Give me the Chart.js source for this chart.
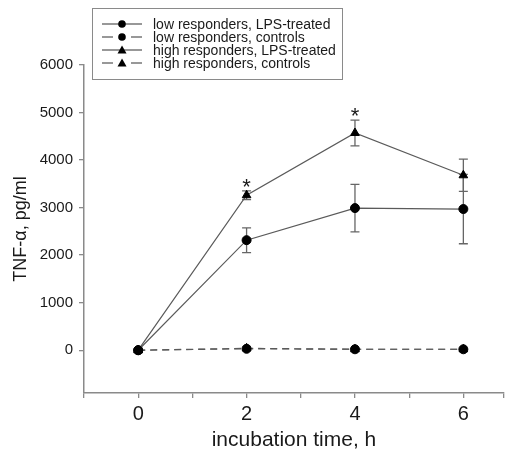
<!DOCTYPE html>
<html lang="en">
<head>
    <meta charset="UTF-8">
    <title>TNF-alpha time course</title>
    <style>
        * { box-sizing: border-box; margin: 0; }
        html, body { width: 510px; height: 454px; background: #fff; overflow: hidden; }
        canvas { display: block; }
    </style>
</head>
<body>
    <canvas id="chartCanvasId" width="510" height="454"></canvas>

    <script src="https://cdn.jsdelivr.net/npm/chart.js@4.4.1/dist/chart.umd.min.js"></script>
    <script>
        "use strict";

        // incubation times (h)
        const times         = [0, 2, 4, 6]
        const seriesNames   = [
            "low responders, LPS-treated",
            "low responders, controls",
            "high responders, LPS-treated",
            "high responders, controls"
        ]
        // TNF-alpha, pg/ml (mean and error)
        const lowLPS        = [0, 2315, 2990, 2970]
        const lowLPSErr     = [0, 260, 500, 730]
        const lowCtrl       = [0, 30, 20, 20]
        const highLPS       = [0, 3260, 4570, 3680]
        const highLPSErr    = [0, 90, 270, 340]
        const highCtrl      = [0, 40, 20, 20]
        // times marked significant (*)
        const sigTimes      = [2, 4]

        const xTickValues   = [-1, 0, 1, 2, 3, 4, 5, 6, 6.75]
        const xTickLabels   = ["", "0", "", "2", "", "4", "", "6", ""]
        const yTickValues   = [0, 1000, 2000, 3000, 4000, 5000, 6000]

        const lineColor     = '#5a5a5a'
        const axisColor     = '#8a8a8a'
        const textColor     = '#1a1a1a'
        const fontFamily    = '"Liberation Sans", Arial, sans-serif'

        function pts(ys) {
            return times.map((t, i) => ({ x: t, y: ys[i] }))
        }

        function makeSet(idx, ys, errs, shape, dashed) {
            return {
                label: seriesNames[idx],
                data: pts(ys),
                err: errs,
                borderColor: lineColor,
                borderWidth: 1.2,
                borderDash: dashed ? [7, 5] : [],
                pointStyle: shape,
                pointRadius: shape === 'triangle' ? 5 : 4.5,
                pointBackgroundColor: '#000',
                pointBorderColor: '#000',
                pointBorderWidth: 1,
                fill: false,
                tension: 0
            }
        }

        // error bars, drawn under the markers
        const errorBars = {
            id: 'errorBars',
            beforeDatasetsDraw(chart) {
                const ctx = chart.ctx
                const xs = chart.scales.x, ys = chart.scales.y
                ctx.save()
                ctx.strokeStyle = '#666'
                ctx.lineWidth = 1.3
                chart.data.datasets.forEach(ds => {
                    if (!ds.err) return
                    ds.data.forEach((p, i) => {
                        const e = ds.err[i]
                        if (!e) return
                        const px = xs.getPixelForValue(p.x)
                        const top = ys.getPixelForValue(p.y + e)
                        const bot = ys.getPixelForValue(p.y - e)
                        ctx.beginPath()
                        ctx.moveTo(px, top); ctx.lineTo(px, bot)
                        ctx.moveTo(px - 4.5, top); ctx.lineTo(px + 4.5, top)
                        ctx.moveTo(px - 4.5, bot); ctx.lineTo(px + 4.5, bot)
                        ctx.stroke()
                    })
                })
                ctx.restore()
            },
            afterDatasetsDraw(chart) {
                // significance stars above the high responder bars
                const ctx = chart.ctx
                const xs = chart.scales.x, ys = chart.scales.y
                ctx.save()
                ctx.fillStyle = textColor
                ctx.font = '22px ' + fontFamily
                ctx.textAlign = 'center'
                ctx.textBaseline = 'alphabetic'
                sigTimes.forEach(t => {
                    const i = times.indexOf(t)
                    const top = ys.getPixelForValue(highLPS[i] + highLPSErr[i])
                    ctx.fillText('*', xs.getPixelForValue(t), top + 3)
                })
                ctx.restore()
            }
        }

        // boxed legend in the top left corner
        const boxLegend = {
            id: 'boxLegend',
            afterDraw(chart) {
                const ctx = chart.ctx
                ctx.save()
                ctx.strokeStyle = axisColor
                ctx.lineWidth = 1
                ctx.strokeRect(92.5, 8.5, 250, 71)
                ctx.font = '14px ' + fontFamily
                ctx.textBaseline = 'middle'
                chart.data.datasets.forEach((ds, i) => {
                    const y = 24 + i * 13
                    ctx.strokeStyle = '#333'
                    ctx.lineWidth = 1.2
                    ctx.beginPath()
                    if (ds.borderDash.length) {
                        ctx.moveTo(102, y); ctx.lineTo(113, y)
                        ctx.moveTo(131, y); ctx.lineTo(142, y)
                    } else {
                        ctx.moveTo(102, y); ctx.lineTo(142, y)
                    }
                    ctx.stroke()
                    ctx.fillStyle = '#000'
                    ctx.beginPath()
                    if (ds.pointStyle === 'triangle') {
                        ctx.moveTo(122, y - 4.5); ctx.lineTo(126.5, y + 3.5); ctx.lineTo(117.5, y + 3.5)
                    } else {
                        ctx.arc(122, y, 3.8, 0, Math.PI * 2)
                    }
                    ctx.closePath()
                    ctx.fill()
                    ctx.fillStyle = textColor
                    ctx.fillText(ds.label, 153, y + 1)
                })
                ctx.restore()
            }
        }

        const chartCanvas  = document.getElementById('chartCanvasId')
        const chartContext = chartCanvas.getContext('2d')

        const myChart = new Chart(chartContext, {
            type: 'line',
            data: {
                datasets: [
                    makeSet(0, lowLPS, lowLPSErr, 'circle', false),
                    makeSet(1, lowCtrl, null, 'circle', true),
                    makeSet(2, highLPS, highLPSErr, 'triangle', false),
                    makeSet(3, highCtrl, null, 'triangle', true)
                ]
            },
            options: {
                responsive: false,
                animation: false,
                layout: { padding: { top: 65, right: 0, left: 0, bottom: 0 } },
                plugins: {
                    legend: { display: false },
                    tooltip: { enabled: false }
                },
                scales: {
                    x: {
                        type: 'linear',
                        min: -1,
                        max: 6.75,
                        afterBuildTicks: s => { s.ticks = xTickValues.map(v => ({ value: v })) },
                        afterFit: s => {
                            s.height = 61
                            s.paddingLeft = 0
                            s.paddingRight = 0
                        },
                        grid: { drawOnChartArea: false, color: axisColor, tickLength: 5, lineWidth: 1.3 },
                        border: { color: axisColor, width: 1.5 },
                        ticks: {
                            autoSkip: false,
                            maxRotation: 0,
                            padding: 4,
                            color: textColor,
                            font: { family: fontFamily, size: 20 },
                            callback: (v, i) => xTickLabels[i]
                        },
                        title: {
                            display: true,
                            text: 'incubation time, h',
                            color: textColor,
                            font: { family: fontFamily, size: 21 },
                            padding: { top: 0, bottom: 1 }
                        }
                    },
                    y: {
                        min: -900,
                        max: 6000,
                        afterBuildTicks: s => { s.ticks = yTickValues.map(v => ({ value: v })) },
                        afterFit: s => { s.width = 84 },
                        grid: { drawOnChartArea: false, color: axisColor, tickLength: 5, lineWidth: 1.3 },
                        border: { color: axisColor, width: 1.5 },
                        ticks: {
                            padding: 6,
                            color: textColor,
                            font: { family: fontFamily, size: 15 },
                            callback: v => String(v)
                        },
                        title: {
                            display: true,
                            text: 'TNF-α, pg/ml',
                            color: textColor,
                            font: { family: fontFamily, size: 18 },
                            padding: { top: 10, bottom: 0 }
                        }
                    }
                }
            },
            plugins: [errorBars, boxLegend]
        });
    </script>
</body>
</html>
